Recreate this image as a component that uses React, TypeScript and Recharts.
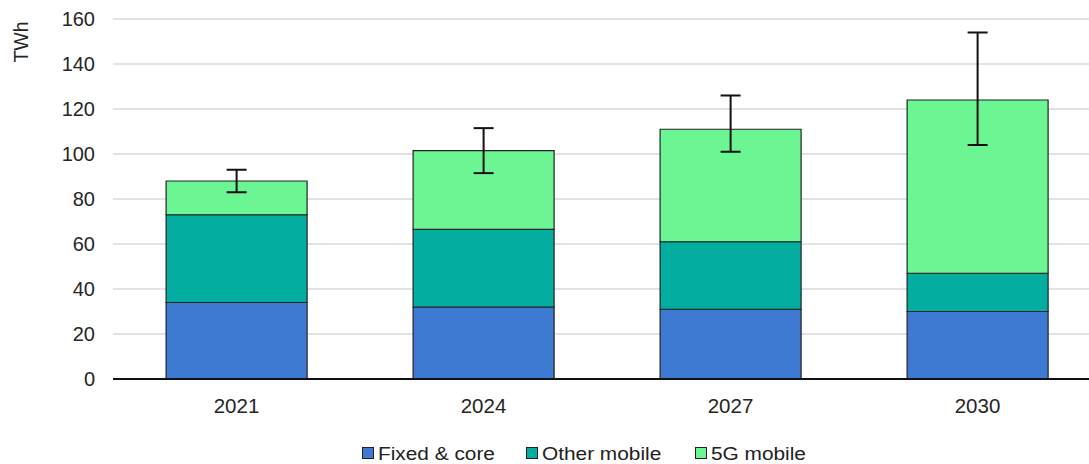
import React from 'react';
import { BarChart, Bar, XAxis, YAxis, CartesianGrid, ErrorBar } from 'recharts';

const years = ['2021', '2024', '2027', '2030'];
const fixedCore = [34, 32, 31, 30];
const otherMobile = [39, 34.5, 30, 17];
const fiveGMobile = [15, 35, 50, 77];
const errLow = [5, 10, 10, 20];
const errHigh = [5, 10, 15, 30];
const yTicks = [0, 20, 40, 60, 80, 100, 120, 140, 160];

const SERIES = [
  { key: 'fixed', name: 'Fixed & core', color: '#3e79d2', left: 362 },
  { key: 'other', name: 'Other mobile', color: '#03ad9f', left: 526 },
  { key: 'fiveG', name: '5G mobile', color: '#6bf593', left: 695 },
];

const data = years.map((year, i) => ({
  year,
  fixed: fixedCore[i],
  other: otherMobile[i],
  fiveG: fiveGMobile[i],
  err: [errLow[i], errHigh[i]],
}));

const FONT = '"Liberation Sans", Arial, sans-serif';
const TEXT = '#262626';

// legend drawn as html over the chart, text looks stretched in the original
const LegendBox = () => (
  <div style={{ position: 'absolute', left: 0, top: 0, fontFamily: FONT, fontSize: 17.5, lineHeight: '18px', color: '#222' }}>
    {SERIES.map(s => (
      <React.Fragment key={s.key}>
        <div style={{ position: 'absolute', left: s.left, top: 447, width: 10, height: 10, background: s.color, border: '1px solid #222' }} />
        <span style={{ position: 'absolute', left: s.left + 16, top: 445, whiteSpace: 'nowrap', transform: 'scaleX(1.19)', transformOrigin: 'left' }}>
          {s.name}
        </span>
      </React.Fragment>
    ))}
  </div>
);

const App: React.FC = () => {
  return (
    <div style={{ position: 'fixed', top: 0, left: 0, width: 1089, height: 464, overflow: 'hidden', background: '#fff' }}>
      <BarChart
        width={1101}
        height={464}
        data={data}
        margin={{ top: 19, right: 0, bottom: 40, left: 0 }}
        barCategoryGap="21.5%"
      >
        <CartesianGrid vertical={false} stroke="#d9d9d9" strokeWidth={1.5} />
        <XAxis
          dataKey="year"
          height={45}
          tickLine={false}
          axisLine={{ stroke: '#111', strokeWidth: 2 }}
          tickMargin={13}
          tick={{ fill: TEXT, fontSize: 20.5, fontFamily: FONT }}
        />
        <YAxis
          width={113}
          domain={[0, 160]}
          ticks={yTicks}
          axisLine={false}
          tickLine={false}
          tickMargin={12}
          tick={{ fill: TEXT, fontSize: 20, fontFamily: FONT }}
          label={() => (
            <text x={21} y={42} transform="rotate(-90 21 42)" textAnchor="middle" dominantBaseline="central" fill={TEXT} fontSize={19.5} fontFamily={FONT}>
              TWh
            </text>
          )}
        />
        {SERIES.map((s, i) => (
          <Bar key={s.key} dataKey={s.key} name={s.name} stackId="a" fill={s.color} stroke="#222" strokeWidth={1.2} isAnimationActive={false}>
            {i === SERIES.length - 1 && (
              <ErrorBar dataKey="err" width={10} stroke="#111" strokeWidth={2} direction="y" />
            )}
          </Bar>
        ))}
      </BarChart>
      <LegendBox />
    </div>
  );
};

export default App;
